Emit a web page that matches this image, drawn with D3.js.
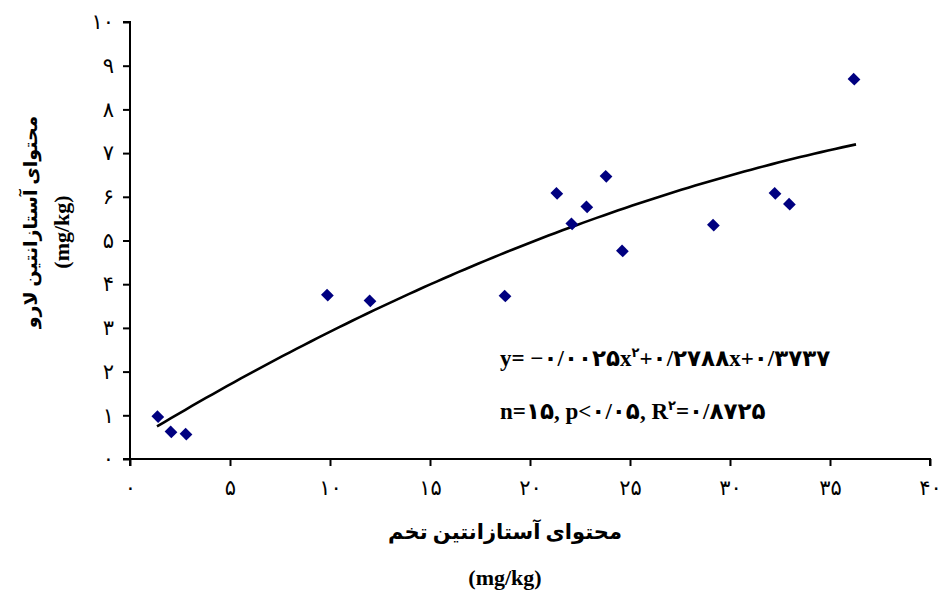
<!DOCTYPE html>
<html><head><meta charset="utf-8">
<script src="https://cdn.jsdelivr.net/npm/d3@7"></script>
<style>
body{margin:0;background:#fff;}
svg{display:block;}
.serif{font-family:"Liberation Serif","DejaVu Sans",serif;}
</style></head>
<body>
<script>
// Data
const eggAstaxanthin   = [1.39, 2.05, 2.80, 9.87, 12.0, 18.75, 21.34, 22.09, 22.84, 23.8, 24.62, 29.17, 32.25, 32.97, 36.2];
const larvaAstaxanthin = [0.97, 0.62, 0.57, 3.75, 3.62, 3.73, 6.08, 5.38, 5.77, 6.47, 4.76, 5.35, 6.08, 5.83, 8.69];
const trendCoef = [-0.0025, 0.2788, 0.3737]; // a, b, c of fitted quadratic shown on chart
const trendRange = [1.35, 36.3];
const xTicks = [0,5,10,15,20,25,30,35,40];
const yTicks = [0,1,2,3,4,5,6,7,8,9,10];
const xTitle = "محتوای آستازانتین تخم";
const yTitle = "محتوای آستازانتین لارو";
const unitLabel = "(mg/kg)";
// equation pieces: [text, superscript?]
const eqLine1 = [["y= \u2212۰/۰۰۲۵x", false], ["۲", true], ["+۰/۲۷۸۸x+۰/۳۷۳۷", false]];
const eqLine2 = [["n=۱۵, p<۰/۰۵, R", false], ["۲", true], ["=۰/۸۷۲۵", false]];

const fa = n => String(n).replace(/\d/g, d => "۰۱۲۳۴۵۶۷۸۹"[d]);

const W = 948, H = 591;
const svg = d3.select("body").append("svg").attr("width", W).attr("height", H);

const x = d3.scaleLinear().domain([0, 40]).range([130, 930]);
const y = d3.scaleLinear().domain([0, 10]).range([459, 22]);

// Axes
const xAxis = d3.axisBottom(x).tickValues(xTicks).tickSize(7).tickPadding(14).tickFormat(fa);
const yAxis = d3.axisLeft(y).tickValues(yTicks).tickSize(7).tickPadding(9).tickFormat(fa);

const gx = svg.append("g").attr("transform", `translate(0,${y(0)})`).call(xAxis);
const gy = svg.append("g").attr("transform", `translate(${x(0)},0)`).call(yAxis);
[gx, gy].forEach(g => {
  g.select(".domain").attr("stroke", "#000").attr("stroke-width", 2);
  g.selectAll(".tick line").attr("stroke", "#000").attr("stroke-width", 2);
  g.selectAll(".tick text").attr("class", "serif").style("font-size", "21px").attr("fill", "#000");
});
gx.select(".domain").attr("d", `M${x(0)-7},0H${x(40)}V7`);
gy.select(".domain").attr("d", `M-7,${y(10)}H0V${y(0)+7}`);

// Trend line
const trendX = d3.range(0, 101).map(i => trendRange[0] + (trendRange[1]-trendRange[0]) * i / 100);
const f = v => trendCoef[0]*v*v + trendCoef[1]*v + trendCoef[2];
svg.append("path")
  .datum(trendX)
  .attr("fill", "none").attr("stroke", "#000").attr("stroke-width", 2.6)
  .attr("d", d3.line().x(d => x(d)).y(d => y(f(d))));

// Points
const sym = d3.symbol().type(d3.symbolSquare).size(90);
svg.append("g").selectAll("path").data(eggAstaxanthin).join("path")
  .attr("d", sym)
  .attr("transform", (d, i) => `translate(${x(d)},${y(larvaAstaxanthin[i])}) rotate(45) scale(1,0.9)`)
  .attr("fill", "#000080");

// Equation text
function eq(parts, yy) {
  const t = svg.append("text").attr("class", "serif").attr("x", 500).attr("y", yy)
    .attr("direction", "ltr").style("font-size", "23px").style("font-weight", "bold");
  parts.forEach(([s, sup]) => {
    const ts = t.append("tspan").text(s);
    if (sup) ts.attr("dy", -9).style("font-size", "13px");
    else if (t.selectAll("tspan").size() > 1) ts.attr("dy", 9);
  });
}
eq(eqLine1, 366);
eq(eqLine2, 419);

// Axis titles
svg.append("text").attr("class", "serif").attr("x", 505).attr("y", 539)
  .attr("text-anchor", "middle").attr("direction", "rtl")
  .style("font-size", "21px").style("font-weight", "bold").text(xTitle);
svg.append("text").attr("class", "serif").attr("x", 505).attr("y", 585)
  .attr("text-anchor", "middle")
  .style("font-size", "22px").style("font-weight", "bold").text(unitLabel);

svg.append("text").attr("class", "serif")
  .attr("transform", "translate(37,222) rotate(-90)")
  .attr("text-anchor", "middle").attr("direction", "rtl")
  .style("font-size", "19px").style("font-weight", "bold").text(yTitle);
svg.append("text").attr("class", "serif")
  .attr("transform", "translate(69,232) rotate(-90)")
  .attr("text-anchor", "middle")
  .style("font-size", "22px").style("font-weight", "bold").text(unitLabel);
</script>
</body></html>
